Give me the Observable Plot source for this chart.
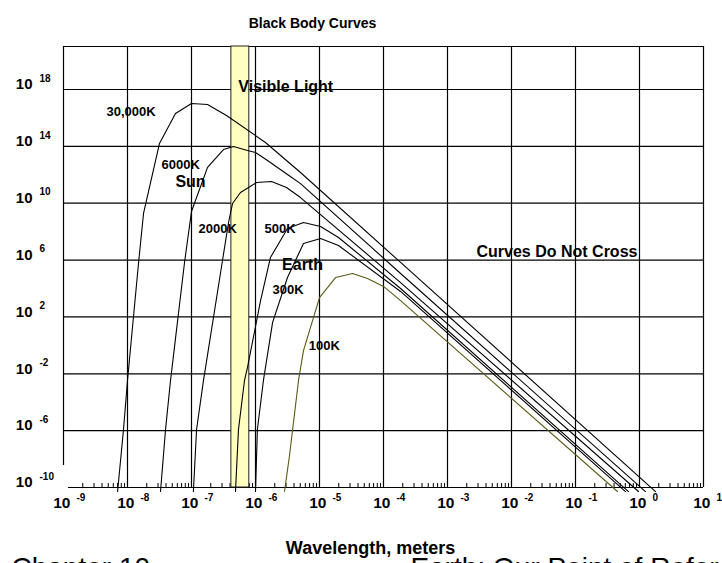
<!DOCTYPE html>
<html>
<head>
<meta charset="utf-8">
<script src="https://cdn.jsdelivr.net/npm/d3@7"></script>
<script src="https://cdn.jsdelivr.net/npm/@observablehq/plot@0.6"></script>
<style>
  html, body { margin: 0; padding: 0; background: #fff; }
  #chart svg { display: block; }
</style>
</head>
<body>
<div id="chart"></div>
<script>
// ---- data (wavelength in m, spectral exitance) ----
const temps = ["30,000K", "6000K", "2000K", "500K", "300K", "100K"];

const wl30000  = [7.0e-9, 8.66e-9, 1.0e-8, 1.49e-8, 1.78e-8, 3.16e-8, 5.62e-8, 1.0e-7, 1.78e-7, 3.52e-7, 1.43e-6, 5.05e-6, 1.85e-4, 1.78];
const val30000 = [5.2e-11, 1.2e-6, 3.4e-3, 6.8e5, 1.9e9, 1.6e14, 2.05e16, 1.04e17, 8.8e16, 1.48e16, 1.87e14, 1.45e12, 6.8e5, 5.2e-11];

const wl6000  = [3.28e-8, 3.93e-8, 4.70e-8, 5.62e-8, 7.78e-8, 1.0e-7, 1.78e-7, 3.16e-7, 4.53e-7, 7.5e-7, 1.0e-6, 1.54e-6, 3.16e-6, 5.05e-6, 1.85e-4, 1.24];
const val6000 = [5.2e-11, 1.2e-6, 3.4e-3, 3.0, 6.8e5, 2.6e9, 3.3e12, 6.0e13, 9.8e13, 5.1e13, 3.7e13, 1.0e13, 1.05e12, 2.4e11, 1.14e5, 5.2e-11];

const wl2000  = [1.07e-7, 1.2e-7, 1.54e-7, 3.05e-7, 3.79e-7, 4.37e-7, 5.83e-7, 1.04e-6, 1.78e-6, 3.05e-6, 5.05e-6, 1.85e-4, 0.964];
const val2000 = [5.2e-11, 1.2e-6, 3.4e-3, 9.3e5, 4.4e8, 9.5e9, 5.7e10, 2.9e11, 3.4e11, 1.28e11, 2.5e10, 2.6e4, 5.2e-11];

const wl500  = [4.87e-7, 5.42e-7, 6.73e-7, 7.5e-7, 1.2e-6, 1.71e-6, 3.16e-6, 5.62e-6, 1.04e-5, 1.98e-5, 1.85e-4, 0.673];
const val500 = [5.2e-11, 1.2e-6, 3.4e-3, 2.8e-2, 1.4e3, 1.5e6, 1.66e8, 4.4e8, 2.3e8, 3.9e7, 1.0e4, 5.2e-11];

const wl300  = [1.0e-6, 1.07e-6, 1.33e-6, 1.85e-6, 3.16e-6, 5.62e-6, 1.04e-5, 1.98e-5, 1.85e-4, 0.604];
const val300 = [5.2e-11, 1.2e-6, 3.4e-3, 41, 5.9e4, 1.47e7, 3.3e7, 1.06e7, 6.2e3, 5.2e-11];

const wl100  = [2.84e-6, 3.4e-6, 4.7e-6, 5.62e-6, 1.0e-5, 1.78e-5, 3.28e-5, 5.62e-5, 1.0e-4, 1.85e-4, 0.453];
const val100 = [5.2e-11, 1.78e-8, 3.4e-3, 0.43, 2.3e3, 5.9e4, 1.14e5, 5.1e4, 1.4e4, 1.4e3, 5.2e-11];

// visible light band (m)
const visibleBand = [{from: 4.2e-7, to: 8.0e-7}];

// axis ticks
const xTicks = [1e-9, 1e-8, 1e-7, 1e-6, 1e-5, 1e-4, 1e-3, 1e-2, 1e-1, 1e0, 1e1];
const xExps  = ["-9", "-8", "-7", "-6", "-5", "-4", "-3", "-2", "-1", "0", "1"];
const yTicks = [1e-10, 1e-6, 1e-2, 1e2, 1e6, 1e10, 1e14, 1e18];
const yExps  = ["-10", "-6", "-2", "2", "6", "10", "14", "18"];

// labels on the curves
const curveLabels = [
  {label: "30,000K", wl: 4.7e-9, val: 2.8e16},
  {label: "6000K", wl: 3.4e-8, val: 5.3e12},
  {label: "2000K", wl: 1.29e-7, val: 1.7e8},
  {label: "500K", wl: 1.38e-6, val: 1.7e8},
  {label: "300K", wl: 1.85e-6, val: 8.5e3},
  {label: "100K", wl: 6.8e-6, val: 1.0}
];
const noteLabels = [
  {label: "Sun", wl: 5.6e-8, val: 3.4e11},
  {label: "Earth", wl: 2.6e-6, val: 4.9e5},
  {label: "Visible Light", wl: 5.4e-7, val: 1.6e18},
  {label: "Curves Do Not Cross", wl: 2.84e-3, val: 4.0e6}
];

// ---- build tidy rows ----
const seriesList = [
  [temps[0], wl30000, val30000],
  [temps[1], wl6000, val6000],
  [temps[2], wl2000, val2000],
  [temps[3], wl500, val500],
  [temps[4], wl300, val300],
  [temps[5], wl100, val100]
];
const rows = [];
seriesList.forEach(([t, w, v]) => w.forEach((x, i) => rows.push({temp: t, wl: x, val: v[i]})));

const xGrid = xTicks.slice(1);
const yGrid = yTicks.slice(1);
const yTop = 1.06e21;
const minorTicks = d3.range(-9, 1).flatMap(k => d3.range(2, 10).map(m => m * Math.pow(10, k)));

const font = "Liberation Sans, Arial, Helvetica, sans-serif";
const olive = "#5a5a16";

const chart = Plot.plot({
  width: 722,
  height: 563,
  marginLeft: 63,
  marginRight: 19,
  marginTop: 46,
  marginBottom: 76,
  style: {fontFamily: font, background: "#fff", color: "#000", overflow: "hidden"},
  x: {type: "log", domain: [1e-9, 1e1], axis: null},
  y: {type: "log", domain: [1e-10, yTop], axis: null},
  marks: [
    // grid
    Plot.ruleX(xGrid, {x: d => d, stroke: "#000", strokeWidth: 1.2}),
    Plot.ruleY(yGrid, {y: d => d, stroke: "#000", strokeWidth: 1.2}),
    Plot.ruleY([yTop], {y: d => d, stroke: "#000", strokeWidth: 1.2}),
    Plot.ruleX([1e-9], {x: d => d, stroke: "#000", strokeWidth: 1.2, insetBottom: 22}),
    Plot.ruleY([1e-10], {y: d => d, stroke: "#000", strokeWidth: 1.2, insetLeft: 5}),
    Plot.ruleX(minorTicks, {x: d => d, stroke: "#000", strokeWidth: 1, insetTop: 437}),
    // visible band
    Plot.rect(visibleBand, {x1: "from", x2: "to", fill: "#ffffc0", stroke: "#222", strokeWidth: 1}),
    // curves
    Plot.line(rows, {filter: d => d.temp !== "100K", x: "wl", y: "val", z: "temp", stroke: "#000", strokeWidth: 1.1}),
    Plot.line(rows, {filter: d => d.temp === "100K", x: "wl", y: "val", z: "temp", stroke: olive, strokeWidth: 1.1}),
    // curve labels
    Plot.text(curveLabels, {x: "wl", y: "val", text: "label", textAnchor: "start", fontSize: 13, fontWeight: "bold", fill: "#000"}),
    Plot.text(noteLabels, {x: "wl", y: "val", text: "label", textAnchor: "start", fontSize: 16, fontWeight: "bold", fill: "#000"}),
    // y tick labels
    Plot.text(yTicks, {y: d => d, frameAnchor: "left", text: () => "10", textAnchor: "end", dx: -31, dy: -5, fontSize: 15, fontWeight: "bold"}),
    Plot.text(yTicks, {y: d => d, frameAnchor: "left", text: (d, i) => yExps[i], textAnchor: "start", dx: -24, dy: -11, fontSize: 10, fontWeight: "bold"}),
    // x tick labels
    Plot.text(xTicks, {x: d => d, frameAnchor: "bottom", text: () => "10", textAnchor: "end", dx: 7, dy: 20.5, fontSize: 15.5, fontWeight: "bold"}),
    Plot.text(xTicks, {x: d => d, frameAnchor: "bottom", text: (d, i) => xExps[i], textAnchor: "start", dx: 13, dy: 13, fontSize: 10, fontWeight: "bold"}),
    // titles
    Plot.text(["Black Body Curves"], {frameAnchor: "top", text: d => d, dx: -71, dy: -28, fontSize: 14, fontWeight: "bold"}),
    Plot.text(["Wavelength, meters"], {frameAnchor: "bottom", text: d => d, dx: -13, dy: 66, fontSize: 18, fontWeight: "bold"}),
    Plot.text(["Chapter 10"], {frameAnchor: "bottom-left", text: d => d, textAnchor: "start", lineAnchor: "top", dx: -52, dy: 70, fontSize: 28}),
    Plot.text(["Earth: Our Point of Reference"], {frameAnchor: "bottom-left", text: d => d, textAnchor: "start", lineAnchor: "top", dx: 347, dy: 70, fontSize: 28})
  ]
});
document.getElementById("chart").appendChild(chart);
</script>
</body>
</html>
